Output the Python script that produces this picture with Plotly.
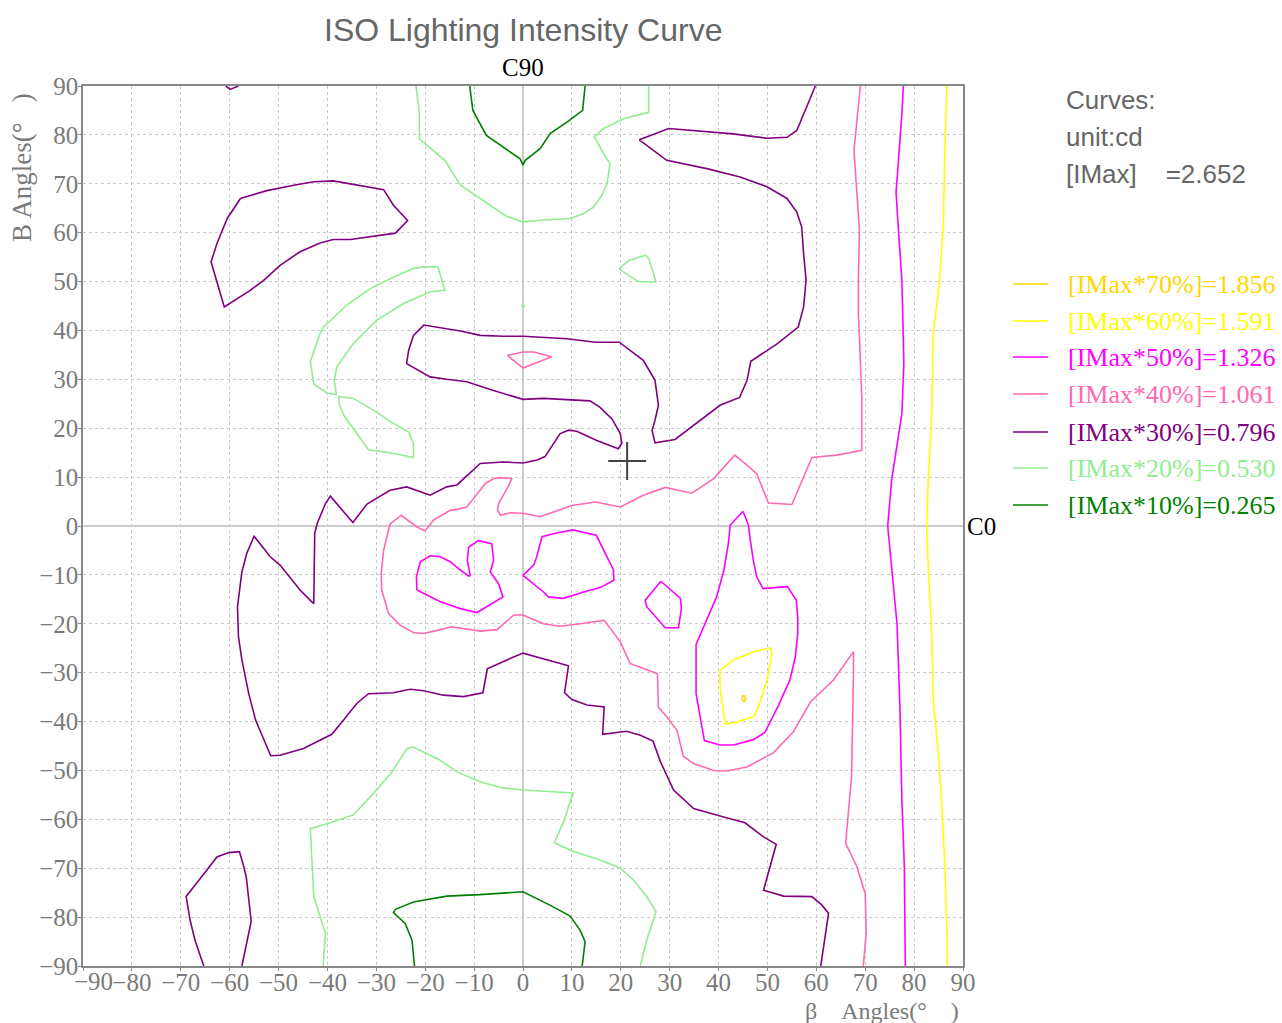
import plotly.graph_objects as go

# ---------------- data (beta angle, B angle) ----------------
levels = ["70%", "60%", "50%", "40%", "30%", "20%", "10%"]
level_values = ["1.856", "1.591", "1.326", "1.061", "0.796", "0.530", "0.265"]
level_colors = ["#FFD700", "#FFFF00", "#FF00FF", "#FF69B4", "#800080", "#90EE90", "#008000"]
imax = "2.652"
cursor_pos = (21.3, 13.3)
tick_values = list(range(-90, 91, 10))

c10_top = [(-10.9, 90), (-10.25, 85.0), (-7.5, 79.9), (-0.6, 75.1), (0, 73.8), (0.45, 74.8),
           (3.5, 77.2), (5.6, 80.3), (9.0, 82.6), (12.2, 85.0), (12.7, 90)]
c10_bottom = [(-22.2, -90), (-22.7, -84.7), (-24.1, -81.3), (-26.5, -79.1), (-26.1, -78.4),
              (-22.4, -76.9), (-15.6, -75.7), (-8.8, -75.4), (0, -74.8), (5.6, -77.6),
              (9.65, -79.8), (11.7, -82.7), (12.7, -85.0), (12.1, -90)]

c20_top = [(-21.9, 90), (-21.2, 84.7), (-21.2, 79.2), (-15.9, 74.7), (-12.8, 69.7), (-8.75, 67.0),
           (-3.3, 63.3), (0, 62.2), (4.2, 62.6), (9.65, 62.9), (12.4, 63.9), (14.4, 65.2),
           (16.1, 67.6), (17.2, 70.0), (17.8, 74.1), (16.5, 76.2), (14.6, 79.6), (16.5, 81.3),
           (20.6, 83.3), (25.7, 84.6), (25.7, 90)]
c20_tri = [(19.6, 52.6), (21.6, 54.3), (25.1, 55.4), (25.7, 54.7), (26.7, 51.6), (27.2, 49.9),
           (23.6, 50.0), (19.6, 52.6)]
c20_dot = [(-0.3, 45.0), (0, 45.3), (0.3, 45.0), (0, 44.7), (-0.3, 45.0)]
c20_arc = [(-17.4, 53.0), (-20.3, 53.0), (-22.4, 52.7), (-26.5, 50.9), (-31.2, 48.6), (-36.0, 45.2),
           (-40.8, 40.7), (-41.5, 39.4), (-43.5, 33.6), (-42.8, 29.0), (-40.1, 27.2), (-38.2, 26.9),
           (-38.6, 29.8), (-38.1, 32.5), (-34.7, 37.3), (-29.9, 42.1), (-24.4, 45.5), (-19.0, 47.9),
           (-16.0, 48.2), (-17.4, 53.0)]
c20_small = [(-37.7, 26.5), (-34.7, 26.1), (-30.6, 23.7), (-26.5, 21.0), (-23.4, 19.2), (-22.4, 16.9),
             (-22.4, 14.0), (-27.2, 15.0), (-31.6, 15.6), (-36.7, 22.7), (-37.5, 24.7), (-37.7, 26.5)]
c20_bottom = [(-40.9, -90), (-40.4, -83.3), (-42.8, -75.8), (-43.5, -61.9), (-40.1, -60.9),
              (-34.7, -59.1), (-30.6, -54.7), (-26.8, -50.3), (-23.7, -45.5), (-22.4, -45.2),
              (-17.3, -47.7), (-13.5, -50.3), (-8.75, -52.3), (-4.65, -53.5), (0, -54.0),
              (10.3, -54.6), (9.3, -57.4), (8.6, -59.8), (6.4, -64.8), (10.3, -66.6), (15.8, -68.3),
              (19.9, -70.0), (22.6, -72.4), (25.3, -75.8), (27.2, -78.9), (25.3, -84.7), (24.0, -90)]

c30_main = [(59.8, 90), (56.0, 80.9), (54.0, 79.5), (49.9, 79.3), (43.0, 80.2), (36.2, 80.8),
            (29.8, 81.3), (23.8, 79.0), (29.4, 74.8), (37.6, 73.1), (44.4, 71.4), (49.9, 69.4),
            (54.0, 67.0), (56.0, 64.2), (57.0, 61.2), (57.4, 55.7), (57.9, 50.3), (57.4, 44.8),
            (56.3, 40.7), (51.9, 37.2), (46.6, 33.7), (45.8, 29.7), (44.3, 26.3), (40.3, 24.7),
            (36.3, 21.6), (31.1, 17.7), (27.0, 17.0), (26.4, 19.6), (27.0, 21.6), (27.7, 24.7),
            (27.0, 29.8), (24.6, 33.9), (19.7, 37.6), (14.8, 37.6), (9.0, 38.3), (0, 38.8),
            (-4.0, 38.8), (-8.75, 39.0), (-12.8, 39.9), (-20.3, 41.1), (-22.4, 39.0), (-23.4, 35.9),
            (-23.8, 33.2), (-19.0, 30.5), (-15.6, 30.0), (-11.5, 29.5), (-6.7, 27.9), (-1.9, 26.4),
            (0, 25.9), (4.2, 26.1), (13.7, 25.6), (15.7, 24.3), (18.2, 21.9), (19.9, 18.9),
            (20.2, 16.9), (19.5, 15.8), (15.1, 17.5), (11.0, 19.4), (9.3, 19.6), (7.6, 18.9),
            (6.3, 16.9), (4.5, 14.2), (2.9, 13.5), (0, 12.9), (-4.0, 13.1), (-8.75, 12.8),
            (-13.5, 8.4), (-15.6, 8.0), (-19.0, 6.3), (-23.8, 8.0), (-27.2, 7.3), (-29.2, 6.1),
            (-31.9, 4.5), (-34.8, 0.7), (-39.4, 6.1), (-40.4, 4.6), (-42.1, 0.5), (-42.6, -1.5),
            (-42.8, -15.9), (-43.5, -15.2), (-45.6, -13.1), (-49.7, -8.0), (-51.7, -6.3),
            (-55.0, -2.1), (-56.5, -5.6), (-57.5, -9.4), (-58.4, -16.5), (-58.2, -22.7),
            (-57.5, -27.4), (-56.1, -34.3), (-54.7, -39.7), (-51.6, -47.0), (-49.7, -46.9),
            (-44.9, -45.5), (-39.1, -42.6), (-36.7, -39.7), (-34.0, -36.3), (-31.6, -34.3),
            (-26.5, -34.1), (-23.1, -33.4), (-20.3, -33.7), (-16.3, -34.6), (-12.2, -34.9),
            (-8.2, -34.1), (-7.3, -29.2), (-3.3, -27.4), (0, -26.0), (9.3, -28.6), (8.5, -34.1),
            (10.0, -35.5), (13.1, -36.6), (16.6, -37.0), (16.3, -42.6), (21.2, -42.0),
            (24.0, -42.8), (26.6, -44.0), (28.1, -48.2), (30.8, -54.0), (34.9, -57.8),
            (40.3, -59.3), (45.4, -60.7), (49.2, -63.6), (51.8, -65.1), (49.2, -74.5),
            (53.3, -75.7), (59.1, -75.8), (61.1, -77.5), (62.5, -79.2), (60.9, -90)]
c30_upper_left = [(-57.8, 67.0), (-52.4, 68.6), (-46.9, 69.7), (-42.8, 70.4), (-38.8, 70.6),
                  (-34.7, 69.9), (-28.5, 68.8), (-26.5, 65.6), (-23.6, 62.5), (-26.1, 59.9),
                  (-30.6, 59.3), (-35.3, 58.6), (-38.8, 58.6), (-41.5, 57.9), (-45.6, 56.1),
                  (-49.7, 53.3), (-53.1, 50.2), (-55.8, 48.2), (-61.1, 44.8), (-62.3, 48.9),
                  (-63.8, 54.0), (-62.6, 57.8), (-60.5, 62.9), (-57.8, 67.0)]
c30_top_left = [(-60.8, 90), (-59.9, 89.3), (-58.2, 90)]
c30_bottom_left = [(-65.3, -90), (-67.1, -84.7), (-68.1, -80.6), (-68.9, -75.8), (-64.7, -70.4),
                   (-62.6, -67.7), (-60.2, -66.8), (-58.0, -66.6), (-57.1, -69.7), (-56.6, -71.8),
                   (-55.6, -80.9), (-57.5, -90)]

c40_main = [(69.0, 90), (68.4, 84.3), (67.7, 76.8), (68.4, 66.6), (68.8, 60.5), (68.6, 50.2),
            (68.6, 43.4), (68.9, 36.6), (69.3, 26.4), (69.3, 15.5), (64.2, 14.5), (59.1, 14.0),
            (55.0, 4.4), (50.2, 4.7), (47.8, 10.7), (45.4, 12.8), (43.3, 14.5), (39.0, 9.7),
            (34.5, 6.7), (29.1, 7.9), (24.6, 6.3), (19.9, 3.9), (14.8, 4.9), (10.0, 4.2),
            (3.5, 1.9), (0, 2.6), (-2.6, 2.7), (-4.6, 2.2), (-5.2, 3.2), (-5.0, 4.6), (-4.0, 6.3),
            (-2.9, 8.3), (-2.3, 9.7), (-4.6, 9.9), (-6.0, 9.7), (-7.7, 8.7), (-10.1, 5.6),
            (-11.5, 3.9), (-13.5, 3.4), (-14.9, 3.2), (-18.3, 1.2), (-20.0, -1.0), (-21.7, -0.2),
            (-24.9, 2.2), (-27.2, 0.4), (-28.5, -4.9), (-29.0, -9.7), (-28.9, -13.1),
            (-27.5, -17.9), (-25.1, -20.3), (-22.4, -21.8), (-20.3, -22.0), (-17.3, -21.3),
            (-14.6, -20.6), (-8.75, -21.5), (-5.3, -21.2), (-1.9, -18.2), (0, -18.2), (4.2, -20.0),
            (7.6, -20.5), (11.7, -20.0), (16.6, -19.3), (19.9, -23.7), (21.9, -28.1), (27.5, -30.2),
            (27.7, -37.1), (29.4, -39.0), (31.5, -41.8), (32.8, -47.1), (34.9, -48.6),
            (39.0, -50.0), (41.7, -50.1), (45.8, -49.3), (51.2, -46.4), (55.3, -42.1),
            (58.8, -36.0), (63.5, -31.5), (67.6, -25.7), (67.6, -30.2), (67.4, -42.4),
            (67.2, -51.3), (66.0, -64.9), (68.3, -69.7), (70.0, -75.2), (70.2, -83.3), (69.6, -90)]
c40_tri = [(-3.2, 34.9), (0, 35.6), (2.2, 35.6), (5.9, 34.6), (0, 32.3), (-3.2, 34.9)]

c50_right = [(77.8, 90), (77.5, 84.3), (76.5, 70.7), (76.3, 68.3), (76.8, 60.5), (77.5, 50.2),
             (77.8, 38.0), (77.9, 33.2), (77.5, 23.0), (76.5, 16.2), (75.4, 9.4), (74.6, 0.0),
             (75.1, -5.0), (75.8, -11.8), (76.5, -20.0), (77.1, -37.0), (77.5, -56.1),
             (78.0, -69.7), (78.2, -83.3), (78.2, -90)]
c50_left = [(-21.7, -13.1), (-21.8, -10.4), (-21.0, -7.3), (-19.0, -6.1), (-16.9, -6.3),
            (-14.9, -7.3), (-12.8, -9.0), (-11.1, -10.3), (-10.8, -10.1), (-11.4, -7.0),
            (-11.1, -4.3), (-9.1, -3.0), (-6.4, -3.6), (-6.0, -7.0), (-6.7, -9.4), (-5.0, -11.8),
            (-4.1, -14.5), (-9.4, -17.7), (-12.8, -16.9), (-16.9, -15.5), (-21.7, -13.1)]
c50_center = [(0, -10.1), (2.2, -8.0), (2.8, -6.3), (3.9, -2.2), (6.6, -1.5), (10.2, -0.8),
              (15.0, -1.9), (17.0, -6.0), (18.5, -9.0), (18.6, -11.1), (15.8, -12.6),
              (12.4, -13.5), (8.3, -14.8), (5.2, -14.5), (4.2, -13.5), (0, -10.1)]
c50_small = [(28.2, -11.3), (25.0, -15.2), (25.3, -16.5), (29.1, -20.8), (31.8, -20.8),
             (32.4, -16.9), (32.2, -14.8), (28.2, -11.3)]
c50_big = [(45.0, 3.0), (42.4, 0.2), (42.0, -3.6), (41.1, -9.0), (39.6, -14.5), (37.6, -19.3),
           (35.4, -24.2), (35.4, -34.3), (36.2, -38.7), (37.1, -43.9), (40.3, -44.8),
           (43.1, -44.8), (47.1, -43.7), (49.5, -42.2), (52.3, -36.6), (54.6, -31.5),
           (55.7, -26.8), (56.2, -22.0), (56.2, -18.6), (55.9, -15.2), (54.1, -12.4),
           (49.1, -12.8), (47.8, -10.4), (47.1, -7.0), (46.5, -2.9), (46.1, 0.2), (45.0, 3.0)]

c60_right = [(86.7, 90), (86.3, 77.5), (86.0, 62.5), (85.2, 50.2), (83.9, 39.3), (83.6, 23.0),
             (82.9, 9.4), (82.55, 0.0), (82.9, -8.4), (83.6, -22.0), (83.9, -35.6), (84.9, -45.9),
             (85.6, -56.1), (86.3, -69.7), (86.7, -83.3), (86.8, -90)]
c60_loop = [(50.6, -24.9), (47.2, -25.7), (43.1, -27.4), (40.3, -29.5), (40.3, -32.9),
            (40.9, -37.0), (41.3, -40.5), (43.8, -40.1), (47.3, -38.9), (48.5, -36.0),
            (49.9, -31.5), (50.9, -26.1), (50.6, -24.9)]

c70_dot = [(44.8, -35.3), (45.0, -34.7), (45.4, -34.8), (45.5, -35.4), (45.2, -35.9),
           (44.9, -35.7), (44.8, -35.3)]

curves = {
    "70%": [c70_dot],
    "60%": [c60_right, c60_loop],
    "50%": [c50_right, c50_left, c50_center, c50_small, c50_big],
    "40%": [c40_main, c40_tri],
    "30%": [c30_main, c30_upper_left, c30_top_left, c30_bottom_left],
    "20%": [c20_top, c20_tri, c20_dot, c20_arc, c20_small, c20_bottom],
    "10%": [c10_top, c10_bottom],
}

# ---------------- figure ----------------
W, H = 1282, 1023
ML, MR, MT, MB = 83, 319, 86, 57
PW, PH = W - ML - MR, H - MT - MB

def px_to_paper_x(px):
    return (px - ML) / PW

def px_to_paper_y(py):
    return (H - MB - py) / PH

SERIF = "Liberation Serif, Times New Roman, serif"
SANS = "Liberation Sans, Arial, sans-serif"
GRAY = "#666666"
TICKGRAY = "#7a7a7a"

def fmt(v):
    return ("\u2212" + str(-v)) if v < 0 else str(v)

fig = go.Figure()

for lev, col in zip(levels, level_colors):
    for crv in curves[lev]:
        xs = [p[0] for p in crv]
        ys = [p[1] for p in crv]
        fig.add_trace(go.Scatter(x=xs, y=ys, mode="lines",
                                 line=dict(color=col, width=1.6),
                                 showlegend=False, hoverinfo="skip"))

fig.add_trace(go.Scatter(x=[cursor_pos[0]], y=[cursor_pos[1]], mode="markers",
                         marker=dict(symbol="cross-thin", size=27,
                                     line=dict(color="#444444", width=2)),
                         showlegend=False, hoverinfo="skip"))

axis_common = dict(
    range=[-90, 90],
    showgrid=True, gridcolor="#c8c8c8", gridwidth=1, griddash="dot",
    zeroline=True, zerolinecolor="#cccccc", zerolinewidth=2,
    showline=True, linecolor="#888888", linewidth=1.5, mirror=True,
    ticks="outside", ticklen=3, tickcolor="#888888",
    tickfont=dict(family=SERIF, size=25, color=TICKGRAY),
    automargin=False, fixedrange=True,
)
# x: first label drawn separately (shifted right, as in the reference)
x_ticktext = ["" if v == tick_values[0] else fmt(v) for v in tick_values]
fig.update_xaxes(**axis_common, tickvals=tick_values, ticktext=x_ticktext, ticklabelstandoff=-10)
fig.update_yaxes(**axis_common, tickvals=tick_values, ticktext=[fmt(v) for v in tick_values],
                 ticklabelstandoff=-5)

annotations = []
annotations.append(dict(text=fmt(tick_values[0]), x=px_to_paper_x(93), y=px_to_paper_y(982),
                        xref="paper", yref="paper", xanchor="center", yanchor="middle",
                        showarrow=False, font=dict(family=SERIF, size=25, color=TICKGRAY)))
annotations.append(dict(text="ISO Lighting Intensity Curve", x=0.5, y=px_to_paper_y(30),
                        xref="paper", yref="paper", xanchor="center", yanchor="middle",
                        showarrow=False, font=dict(family=SANS, size=32, color=GRAY)))
annotations.append(dict(text="C90", x=0.5, y=px_to_paper_y(68), xref="paper", yref="paper",
                        xanchor="center", yanchor="middle", showarrow=False,
                        font=dict(family=SERIF, size=25, color="#000000")))
annotations.append(dict(text="C0", x=px_to_paper_x(965), y=0.5, xref="paper", yref="paper",
                        xanchor="left", yanchor="middle", showarrow=False,
                        font=dict(family=SERIF, size=25, color="#000000")))
annotations.append(dict(text="B Angles(°   )", x=px_to_paper_x(22), y=px_to_paper_y(168),
                        xref="paper", yref="paper", xanchor="center", yanchor="middle",
                        textangle=-90, showarrow=False,
                        font=dict(family=SERIF, size=27, color=TICKGRAY)))
annotations.append(dict(text="β    Angles(°    )", x=px_to_paper_x(961), y=px_to_paper_y(1011),
                        xref="paper", yref="paper", xanchor="right", yanchor="middle",
                        showarrow=False, font=dict(family=SERIF, size=24, color=TICKGRAY)))

info_lines = ["Curves:", "unit:cd", "[IMax]    =" + imax]
for txt, py in zip(info_lines, [100, 137, 174]):
    annotations.append(dict(text=txt, x=px_to_paper_x(1064), y=px_to_paper_y(py),
                            xref="paper", yref="paper", xanchor="left", yanchor="middle",
                            showarrow=False, font=dict(family=SANS, size=26, color=GRAY)))

shapes = []
legend_y = [284, 321, 357, 394, 432, 468, 505]
for lev, val, col, py in zip(levels, level_values, level_colors, legend_y):
    yp = px_to_paper_y(py)
    shapes.append(dict(type="line", xref="paper", yref="paper",
                       x0=px_to_paper_x(1013), x1=px_to_paper_x(1048), y0=yp, y1=yp,
                       line=dict(color=col, width=1.5)))
    annotations.append(dict(text="[IMax*" + lev + "]=" + val, x=px_to_paper_x(1066), y=yp,
                            xref="paper", yref="paper", xanchor="left", yanchor="middle",
                            showarrow=False, font=dict(family=SERIF, size=26, color=col)))

fig.update_layout(
    width=W, height=H, autosize=False,
    margin=dict(l=ML, r=MR, t=MT, b=MB, pad=0),
    paper_bgcolor="white", plot_bgcolor="white",
    showlegend=False,
    annotations=annotations, shapes=shapes,
    font=dict(family=SERIF, color=TICKGRAY),
)

fig.write_html("out.html", config={"displayModeBar": False},
               post_script="document.body.style.margin='0';document.body.style.overflow='hidden';")
